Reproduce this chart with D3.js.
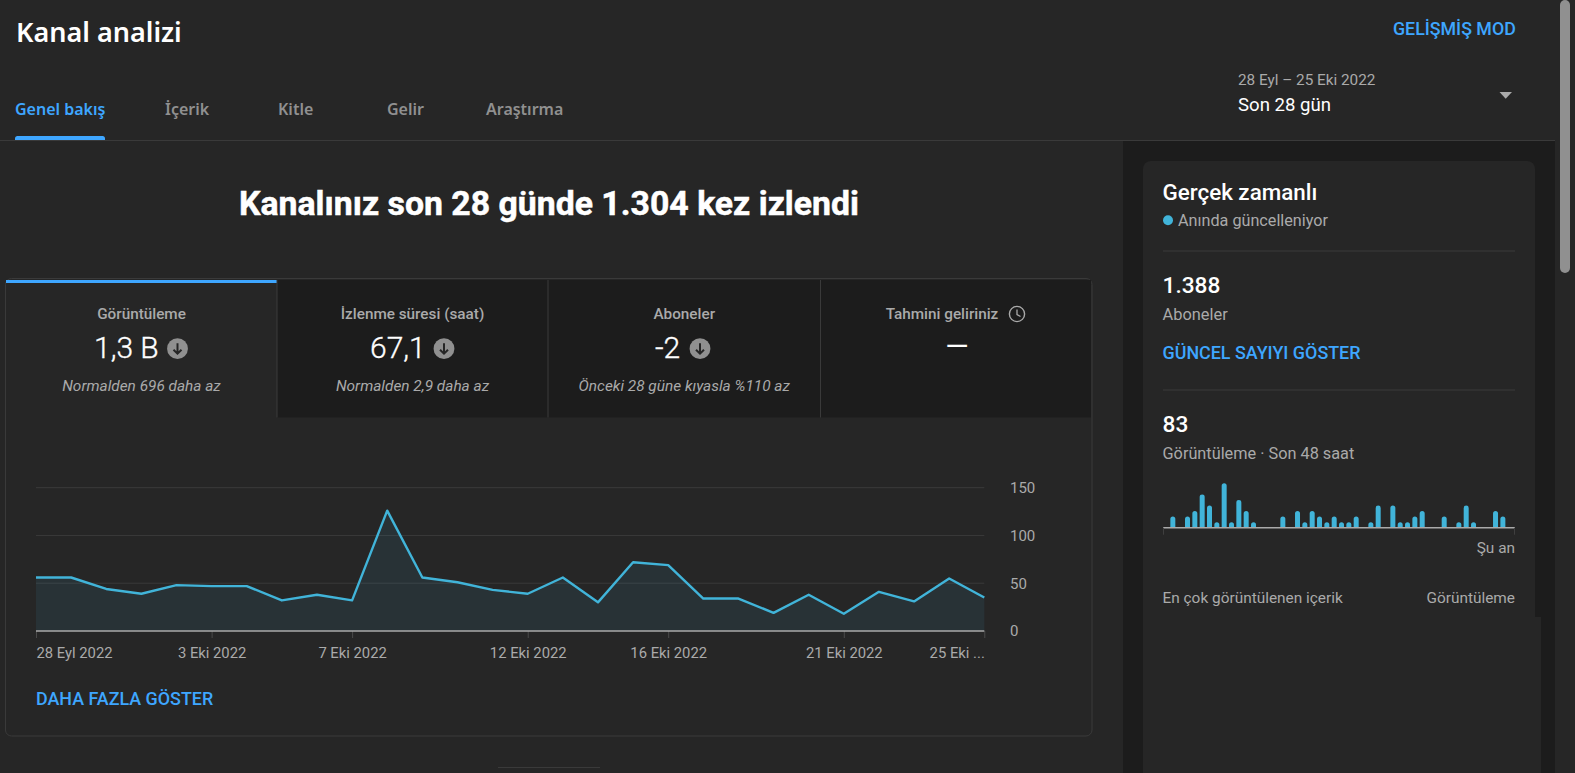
<!DOCTYPE html>
<html>
<head>
<meta charset="utf-8">
<title>Kanal analizi</title>
<script src="https://cdn.jsdelivr.net/npm/d3@7"></script>
<style>
  html, body { margin: 0; padding: 0; background: #262626; overflow: hidden; }
  svg { display: block; font-family: Roboto, sans-serif; }
  .axis .domain { display: none; }
</style>
</head>
<body>
<svg id="page"></svg>
<script>
// daily views, 28 Eyl - 25 Eki 2022
const days = ["28 Eyl 2022","29 Eyl","30 Eyl","1 Eki","2 Eki","3 Eki 2022","4 Eki","5 Eki","6 Eki","7 Eki 2022",
  "8 Eki","9 Eki","10 Eki","11 Eki","12 Eki 2022","13 Eki","14 Eki","15 Eki","16 Eki 2022","17 Eki",
  "18 Eki","19 Eki","20 Eki","21 Eki 2022","22 Eki","23 Eki","24 Eki","25 Eki ..."];
const views = [56,56,44,39,48,47,47,32,38,32,126,56,51,43,39,56,30,72,69,34,34,19,38,18,41,31,55,35];
const dayTicks = ["28 Eyl 2022","3 Eki 2022","7 Eki 2022","12 Eki 2022","16 Eki 2022","21 Eki 2022","25 Eki ..."];
const viewTicks = [0,50,100,150];

// realtime views per hour, last 48 hours
const hourly = [0,2,0,2,3,6,4,1,8,1,5,3,1,0,0,0,2,0,3,1,3,2,1,2,1,1,2,0,1,4,0,4,1,1,2,3,0,0,2,0,1,4,1,0,0,3,2,0];

const tabs = ["Genel bakış","İçerik","Kitle","Gelir","Araştırma"];
const tabX = [15,165,278,387,486];
const metricTitles = ["Görüntüleme","İzlenme süresi (saat)","Aboneler","Tahmini geliriniz"];
const metricValues = ["1,3 B","67,1","-2","—"];
const metricNotes = ["Normalden 696 daha az","Normalden 2,9 daha az","Önceki 28 güne kıyasla %110 az",""];

const W = 1575, H = 773;
const BLUE = "#3ea6ff", CYAN = "#41b4d9", GREY = "#aaaaaa", RULE = "#3a3a3a", BG = "#262626", DARK = "#1c1c1c";
const HEAD = "'Noto Sans', sans-serif";

const svg = d3.select("#page").attr("width", W).attr("height", H);

const label = (txt, x, y, size, fill, opts = {}) => svg.append("text")
  .attr("x", x).attr("y", y)
  .attr("font-size", size)
  .attr("fill", fill)
  .attr("font-weight", opts.weight || 400)
  .attr("font-style", opts.style || null)
  .attr("font-family", opts.family || null)
  .attr("text-anchor", opts.anchor || "start")
  .attr("letter-spacing", opts.spacing || null)
  .attr("stroke", opts.stroke ? fill : null)
  .attr("stroke-width", opts.stroke || null)
  .text(txt);

const rect = (x, y, w, h, fill, r) => svg.append("rect")
  .attr("x", x).attr("y", y).attr("width", w).attr("height", h).attr("fill", fill).attr("rx", r || 0);

const rule = (x1, x2, y) => svg.append("line")
  .attr("x1", x1).attr("x2", x2).attr("y1", y).attr("y2", y)
  .attr("stroke", RULE).attr("stroke-width", 1);

// page background, side column, scrollbar
rect(0, 0, W, H, BG);
rect(1123, 141, 432, H - 141, DARK);
rect(1143, 161, 392, H, BG, 8);
rect(1143, 617, 398, H - 617, BG);
rect(1555, 0, 20, H, BG);
rect(1560, 0, 10, 273, "#909090", 5);

// header
label("Kanal analizi", 16, 42, 27, "#fff", { family: HEAD, weight: 600 });
label("GELİŞMİŞ MOD", 1393, 35, 17.8, BLUE, { weight: 500 });
label("28 Eyl – 25 Eki 2022", 1238, 85, 15.3, GREY);
label("Son 28 gün", 1238, 111, 18.6, "#fff");
svg.append("path").attr("d", "M1499.5,92L1512,92L1505.7,98.7Z").attr("fill", GREY);

tabs.forEach((t, i) => label(t, tabX[i], 115, 16, i === 0 ? BLUE : "#909090", { family: HEAD, weight: 600 }));
rule(0, 1555, 140.5);
svg.append("path").attr("d", "M15,140L15,138.5Q15,136 17.5,136L102.5,136Q105,136 105,138.5L105,140Z").attr("fill", BLUE);

label("Kanalınız son 28 günde 1.304 kez izlendi", 549, 215, 33.8, "#fff", { weight: 700, anchor: "middle", stroke: 0.5 });

// metric card
const tabEdges = [6, 277, 548, 820.5, 1092];
svg.append("rect").attr("x", 5.5).attr("y", 278.5).attr("width", 1086.5).attr("height", 457.5).attr("rx", 6)
  .attr("fill", BG).attr("stroke", RULE);
rect(277, 280, 814, 137.5, DARK);
rect(6, 280, 271, 3, BLUE);
[277, 548, 820.5].forEach(x => svg.append("line").attr("x1", x).attr("x2", x).attr("y1", 280).attr("y2", 417.5).attr("stroke", RULE));

metricTitles.forEach((t, i) => {
  const cx = (tabEdges[i] + tabEdges[i + 1]) / 2;
  if (i < 3) label(t, cx, 319, 15.3, GREY, { weight: 500, anchor: "middle" });
  else label(t, 942, 319, 15.3, GREY, { weight: 500, anchor: "middle" });
  label(metricNotes[i], cx, 391, 15.4, GREY, { style: "italic", anchor: "middle" });
});

const valueX = [94, 370, 655];
const arrowX = [177.5, 444, 700];
metricValues.slice(0, 3).forEach((v, i) => {
  label(v, valueX[i], 358, 30, "#fff", { weight: 300, stroke: 0.35 });
  const g = svg.append("g").attr("transform", `translate(${arrowX[i]},348.7)`);
  g.append("circle").attr("r", 10.4).attr("fill", "#909090");
  g.append("path").attr("d", "M0,-5.5V5M-4,1L0,5L4,1").attr("fill", "none").attr("stroke", "#262626").attr("stroke-width", 2);
});
label(metricValues[3], 957, 356, 30, "#fff", { anchor: "middle" });

// clock icon next to Tahmini geliriniz
const clock = svg.append("g").attr("transform", "translate(1017,314)");
clock.append("circle").attr("r", 7.6).attr("fill", "none").attr("stroke", GREY).attr("stroke-width", 1.4);
clock.append("path").attr("d", "M0,-4.5V0.5L3.5,2.5").attr("fill", "none").attr("stroke", GREY).attr("stroke-width", 1.3);

// main views chart
const x = d3.scalePoint().domain(days).range([36, 984.3]);
const y = d3.scaleLinear().domain([0, 150]).range([631, 487.7]);

svg.append("g").selectAll("line").data(viewTicks.slice(1)).join("line")
  .attr("x1", 36).attr("x2", 984.3)
  .attr("y1", d => y(d)).attr("y2", d => y(d))
  .attr("stroke", RULE);

const area = d3.area().x((d, i) => x(days[i])).y0(y(0)).y1(d => y(d));
const line = d3.line().x((d, i) => x(days[i])).y(d => y(d));

svg.append("path").datum(views).attr("d", area).attr("fill", CYAN).attr("fill-opacity", 0.09);
svg.append("path").datum(views).attr("d", line).attr("fill", "none")
  .attr("stroke", CYAN).attr("stroke-width", 2.4).attr("stroke-linejoin", "round");

const xAxis = svg.append("g").attr("class", "axis")
  .attr("transform", `translate(0,${y(0)})`)
  .call(d3.axisBottom(x).tickValues(dayTicks).tickSize(7).tickPadding(9));
xAxis.selectAll("line").attr("stroke", "#4a4a4a");
xAxis.selectAll("text").attr("fill", GREY).attr("font-size", 14.8).attr("font-family", "Roboto")
  .attr("text-anchor", (d, i) => i === 0 ? "start" : i === dayTicks.length - 1 ? "end" : "middle");

const yAxis = svg.append("g").attr("class", "axis")
  .attr("transform", "translate(1010,0)")
  .call(d3.axisRight(y).tickValues(viewTicks).tickSize(0).tickPadding(0));
yAxis.selectAll("text").attr("fill", GREY).attr("font-size", 15).attr("font-family", "Roboto");

svg.append("line").attr("x1", 36).attr("x2", 984.3).attr("y1", y(0)).attr("y2", y(0))
  .attr("stroke", GREY).attr("stroke-width", 1.6);

label("DAHA FAZLA GÖSTER", 36, 705, 17.9, BLUE, { weight: 500 });
rule(498, 600, 767.5);

// realtime card
label("Gerçek zamanlı", 1162.5, 200, 22.4, "#fff", { weight: 500 });
svg.append("circle").attr("cx", 1168).attr("cy", 220.3).attr("r", 5).attr("fill", CYAN);
label("Anında güncelleniyor", 1178, 226, 16.2, GREY);
rule(1163, 1515, 251);
label("1.388", 1162.5, 293, 22.7, "#fff", { weight: 500 });
label("Aboneler", 1162.5, 320, 16.4, GREY);
label("GÜNCEL SAYIYI GÖSTER", 1162.5, 359, 17.9, BLUE, { weight: 500 });
rule(1163, 1515, 390);
label("83", 1162.5, 432, 22.7, "#fff", { weight: 500 });
label("Görüntüleme · Son 48 saat", 1162.5, 459, 16.3, GREY);

const hx = d3.scaleBand().domain(d3.range(hourly.length)).range([1163, 1512.7]).paddingInner(0.318);
const hy = d3.scaleLinear().domain([0, 8]).range([527.7, 483.3]);

svg.append("g").selectAll("path").data(hourly.map((v, i) => [i, v]).filter(d => d[1] > 0)).join("path")
  .attr("fill", CYAN)
  .attr("d", d => {
    const p = d3.path(), l = hx(d[0]), w = hx.bandwidth(), r = w / 2, top = hy(d[1]);
    p.moveTo(l, hy(0));
    p.lineTo(l, top + r);
    p.arc(l + r, top + r, r, Math.PI, 0);
    p.lineTo(l + w, hy(0));
    p.closePath();
    return p.toString();
  });

svg.append("line").attr("x1", 1163).attr("x2", 1515).attr("y1", hy(0)).attr("y2", hy(0))
  .attr("stroke", GREY).attr("stroke-width", 1.4);
[1163.5, 1514.5].forEach(v => svg.append("line").attr("x1", v).attr("x2", v).attr("y1", hy(0)).attr("y2", hy(0) + 7).attr("stroke", "#3f3f3f"));

label("Şu an", 1515, 553, 15.4, GREY, { anchor: "end" });
label("En çok görüntülenen içerik", 1162.5, 603, 15.4, GREY);
label("Görüntüleme", 1515, 603, 15.4, GREY, { anchor: "end" });
</script>
</body>
</html>
